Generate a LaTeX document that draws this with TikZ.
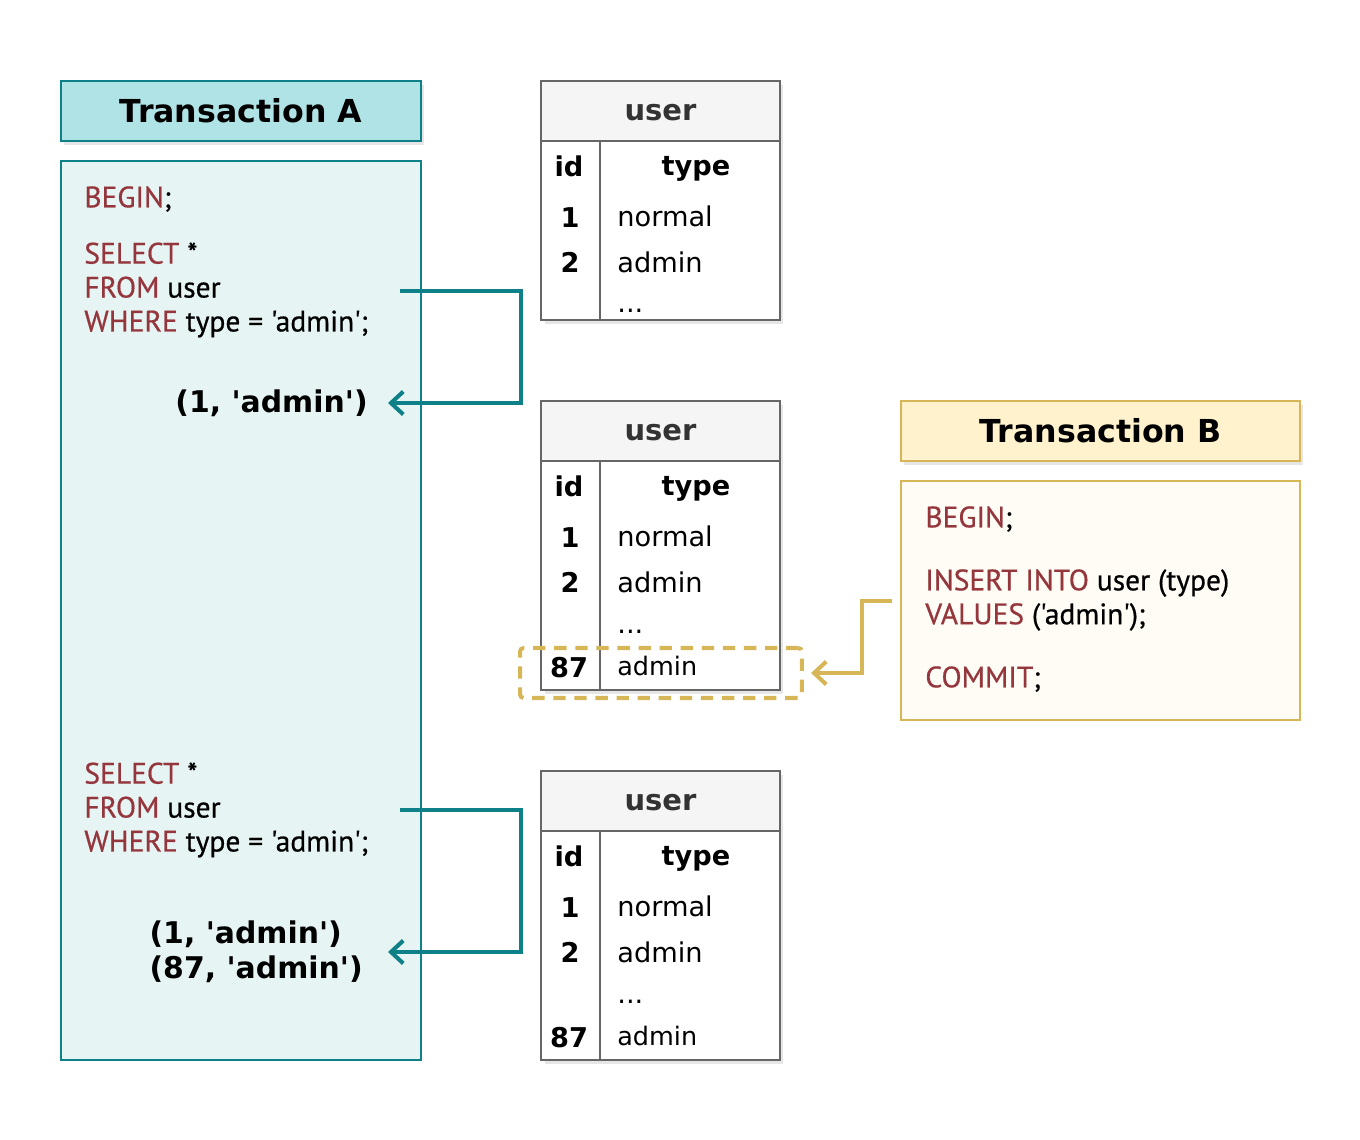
\documentclass[tikz,border=0pt]{standalone}
\usepackage{fontspec}
\setmainfont{DejaVu Sans}[Ligatures=TeXOff]
\newfontfamily\codefont{PT Sans}[Ligatures=TeXOff, FakeBold=0.6]
\usetikzlibrary{arrows.meta,positioning,calc,shadows}
\definecolor{txteal}{RGB}{14,128,136}
\definecolor{txtealhead}{RGB}{176,227,230}
\definecolor{txtealbody}{RGB}{231,244,244}
\definecolor{txgold}{RGB}{214,182,86}
\definecolor{txgoldhead}{RGB}{255,242,204}
\definecolor{txgoldbody}{RGB}{255,252,245}
\definecolor{sqlred}{RGB}{148,54,60}
\definecolor{tblgray}{RGB}{102,102,102}
\definecolor{tblheadfill}{RGB}{245,245,245}
\definecolor{tbltext}{RGB}{51,51,51}
\newcommand{\kw}[1]{\textcolor{sqlred}{#1}}

\tikzset{
  txhead/.style={draw, line width=1.2pt, minimum height=1.2cm,
    font=\fontsize{18}{20}\selectfont\bfseries,
    drop shadow={opacity=0.2, shadow xshift=1.5pt, shadow yshift=-2.5pt}},
  txbody/.style={draw, line width=1.2pt},
  code/.style={anchor=west, align=left, inner sep=0pt,
    font=\codefont\fontsize{16.8}{19.3}\selectfont},
  tblbox/.style={draw=tblgray, line width=1pt, fill=white, minimum width=4.78cm,
    drop shadow={opacity=0.2, shadow xshift=2pt, shadow yshift=-2.5pt}},
  tblhead/.style={draw=tblgray, line width=1pt, fill=tblheadfill, minimum width=4.78cm,
    minimum height=1.2cm, text height=1.1em, text depth=0pt, text=tbltext,
    font=\fontsize{16.5}{18}\selectfont\bfseries},
  colname/.style={inner sep=0pt, font=\fontsize{15.5}{17}\selectfont\bfseries},
  cell/.style={anchor=west, inner sep=0pt, font=\fontsize{15.5}{17}\selectfont},
  result/.style={anchor=east, align=left, inner xsep=0.4cm,
    font=\fontsize{17}{20}\selectfont\bfseries},
  arrA/.style={draw=txteal, line width=2.3pt, -{Straight Barb[length=7pt,width=13pt]}},
  arrB/.style={draw=txgold, line width=2.3pt, -{Straight Barb[length=7pt,width=13pt]}}
}

\begin{document}
\begin{tikzpicture}[x=0.02cm, y=-0.02cm]
  \useasboundingbox (0,0) rectangle (1360,1140);

  %% Transaction A
  \node[txhead, draw=txteal, fill=txtealhead, minimum width=7.2cm] (hdA) at (241,111) {Transaction A};
  \node[txbody, draw=txteal, fill=txtealbody, minimum width=7.2cm, minimum height=17.98cm] (bodyA) at (241,610.5) {};

  \node[code] (beginA) at (84,199) {\kw{BEGIN};};
  \node[code] (selA1) at (84,290) {\kw{SELECT} *\\\kw{FROM} user\\\kw{WHERE} type = 'admin';};
  \node[code] (selA2) at (84,810) {\kw{SELECT} *\\\kw{FROM} user\\\kw{WHERE} type = 'admin';};

  \node[result] (resA1) at (388,403) {(1, 'admin')};
  \node[result, inner xsep=0.5cm] (resA2) at (388,952) {(1, 'admin')\\(87, 'admin')};

  %% Transaction B
  \node[txhead, draw=txgold, fill=txgoldhead, minimum width=7.98cm] (hdB) at (1100.5,431) {Transaction B};
  \node[txbody, draw=txgold, fill=txgoldbody, minimum width=7.98cm, minimum height=4.78cm] (bodyB) at (1100.5,600.5) {};

  \node[code] (beginB) at (925,519) {\kw{BEGIN};};
  \node[code] (insB) at (925,600) {\kw{INSERT INTO} user (type)\\\kw{VALUES} ('admin');};
  \node[code] (commitB) at (925,679) {\kw{COMMIT};};

  %% Table 1
  \node[tblbox, minimum height=4.78cm] (tab1) at (660.5,200.5) {};
  \node[tblhead] (tab1h) at (660.5,111) {user};
  \draw[tblgray, line width=1pt] (tab1h.south -| 600,0) -- (tab1.south -| 600,0);
  \node[colname] at (569,166) {id};
  \node[colname] at (696,169) {type};
  \node[colname] at (570,218) {1};
  \node[cell] at (617,216) {normal};
  \node[colname] at (570,262) {2};
  \node[cell] at (617,262) {admin};
  \node[cell] at (617,311) {...};

  %% Table 2
  \node[tblbox, minimum height=5.78cm] (tab2) at (660.5,545.5) {};
  \node[tblhead] (tab2h) at (660.5,431) {user};
  \draw[tblgray, line width=1pt] (tab2h.south -| 600,0) -- (tab2.south -| 600,0);
  \node[colname] at (569,486) {id};
  \node[colname] at (696,489) {type};
  \node[colname] at (570,538) {1};
  \node[cell] at (617,536) {normal};
  \node[colname] at (570,582) {2};
  \node[cell] at (617,582) {admin};
  \node[cell] at (617,632) {...};
  \node[colname] at (569,668) {87};
  \node[cell, font=\fontsize{14.5}{16}\selectfont] at (617,666) {admin};
  \node[draw=txgold, line width=2.3pt, dash pattern=on 7pt off 5pt, rounded corners=2pt,
    minimum width=5.64cm, minimum height=1cm] (newrow) at (661,673) {};

  %% Table 3
  \node[tblbox, minimum height=5.78cm] (tab3) at (660.5,915.5) {};
  \node[tblhead] (tab3h) at (660.5,801) {user};
  \draw[tblgray, line width=1pt] (tab3h.south -| 600,0) -- (tab3.south -| 600,0);
  \node[colname] at (569,856) {id};
  \node[colname] at (696,859) {type};
  \node[colname] at (570,908) {1};
  \node[cell] at (617,906) {normal};
  \node[colname] at (570,952) {2};
  \node[cell] at (617,952) {admin};
  \node[cell] at (617,1002) {...};
  \node[colname] at (569,1038) {87};
  \node[cell, font=\fontsize{14.5}{16}\selectfont] at (617,1036) {admin};

  %% Connectors
  \coordinate (qA1) at (400,291);
  \coordinate (qA2) at (400,810);
  \coordinate (qB) at (892,601);
  \draw[arrA] (qA1) -- ++(121,0) |- (resA1);
  \draw[arrA] (qA2) -- ++(121,0) |- (resA2);
  \draw[arrB] (qB) -- ++(-30,0) |- ([xshift=4pt]newrow.east);
\end{tikzpicture}
\end{document}
